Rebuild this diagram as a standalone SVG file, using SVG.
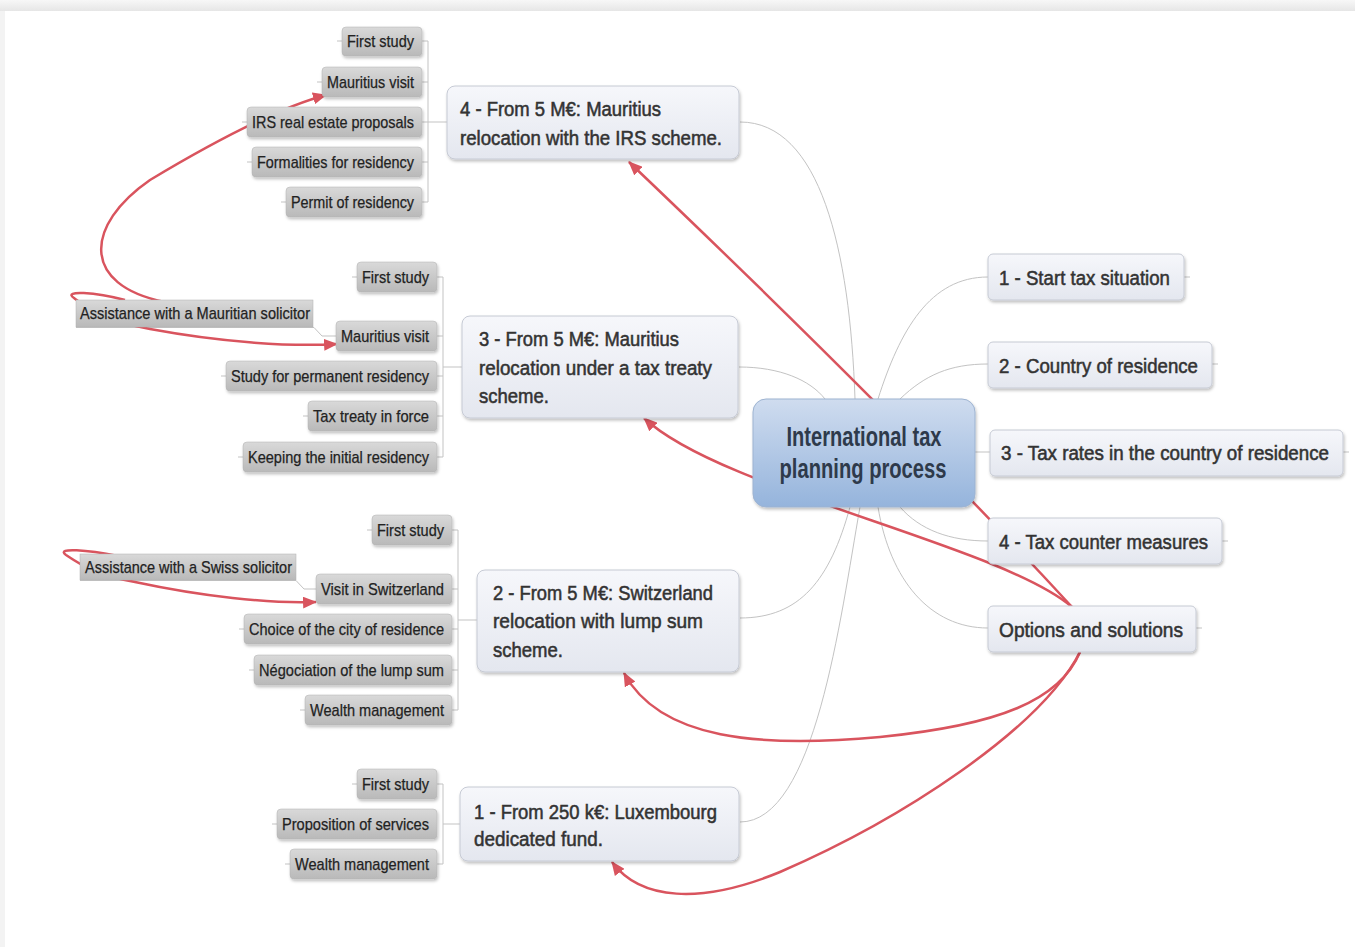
<svg xmlns="http://www.w3.org/2000/svg" width="1355" height="947" viewBox="0 0 1355 947">
<defs>
<linearGradient id="gTop" x1="0" y1="0" x2="0" y2="1"><stop offset="0" stop-color="#f7f7f7"/><stop offset="1" stop-color="#e6e6e6"/></linearGradient>
<linearGradient id="gCenter" x1="0" y1="0" x2="0" y2="1"><stop offset="0" stop-color="#cfdcef"/><stop offset="1" stop-color="#95b4dc"/></linearGradient>
<linearGradient id="gMain" x1="0" y1="0" x2="0" y2="1"><stop offset="0" stop-color="#f6f7fb"/><stop offset="1" stop-color="#e4e7ef"/></linearGradient>
<linearGradient id="gLeaf" x1="0" y1="0" x2="0" y2="1"><stop offset="0" stop-color="#d9d9d9"/><stop offset="1" stop-color="#b9b9b9"/></linearGradient>
<filter id="sh" x="-10%" y="-20%" width="120%" height="150%"><feDropShadow dx="1" dy="2" stdDeviation="1.5" flood-color="#000" flood-opacity="0.25"/></filter>
<marker id="ah" viewBox="0 0 14 12" refX="13" refY="6" markerWidth="14" markerHeight="12" markerUnits="userSpaceOnUse" orient="auto"><path d="M0,0 L14,6 L0,12 z" fill="#d9545e"/></marker>
<style>
text{font-family:"Liberation Sans",Arial,sans-serif;fill:#2b2b2b}
.gl{fill:none;stroke:#c3c3c3;stroke-width:1}
.ra{fill:none;stroke:#d9545e;stroke-width:2.5;marker-end:url(#ah)}
.center rect{fill:url(#gCenter);stroke:#9db3d1;stroke-width:1}
.center text{font-size:27px;font-weight:bold;fill:#2e3a4b;text-anchor:middle}
.main rect{fill:url(#gMain);stroke:#c6cad4;stroke-width:1}
.main text{font-size:20.5px;fill:#333;stroke:#333;stroke-width:0.55}
.main text.sm{font-size:19.5px}
.leaf rect{fill:url(#gLeaf);stroke:#b0b0b0;stroke-width:0.5}
.leaf text{font-size:17px;fill:#222;stroke:#222;stroke-width:0.25}
</style>
</defs>
<rect x="0" y="0" width="1355" height="947" fill="#ffffff"/>
<rect x="0" y="0" width="1355" height="11" fill="url(#gTop)"/>
<rect x="0" y="11" width="5" height="936" fill="#f3f3f3"/>

<g id="connectors">
<path class="gl" d="M855,399 C850,250 820,122 740,122"/>
<path class="gl" d="M825,399 C810,380 780,367 739,367"/>
<path class="gl" d="M878,399 C900,330 930,277 988,277"/>
<path class="gl" d="M900,399 C925,375 950,364 988,364"/>
<path class="gl" d="M975,452 L990,452"/>
<path class="gl" d="M900,507 C920,530 950,541 988,541"/>
<path class="gl" d="M878,507 C890,580 930,628 988,628"/>
<path class="gl" d="M850,507 C830,580 800,618 740,618"/>
<path class="gl" d="M860,507 C840,620 815,822 740,822"/>
<path class="gl" d="M1184,277 H1190 M1212,364 H1218 M1343,452 H1349 M1222,541 H1228 M1196,628 H1202"/>
<path class="gl" d="M422,41 H428 V202 H422 M422,82 H428 M422,122 H447 M422,162 H428 M337,41 H342 M317,82 H322 M242,122 H247 M247,162 H252 M281,202 H286"/>
<path class="gl" d="M437,277 H443 V457 H437 M437,336 H443 M437,376 H443 M437,416 H443 M443,367 H462 M352,277 H357 M221,376 H226 M303,416 H308 M238,457 H243"/>
<path class="gl" d="M76,327.5 H314 L322,336 H336"/>
<path class="gl" d="M452,530 H458 V710 H452 M452,589 H458 M452,629 H458 M452,670 H458 M458,620 H477 M367,530 H372 M239,629 H244 M249,670 H254 M300,710 H305"/>
<path class="gl" d="M80,580.5 H296 L304,589 H316"/>
<path class="gl" d="M437,784 H443 V864 H437 M443,824 H460 M352,784 H357 M272,824 H277 M285,864 H290"/>

<path class="ra" d="M1072,607 Q900,420 629,162"/>
<path class="ra" d="M1072,607 C1000,545 720,490 644,418"/>
<path class="ra" d="M1080,652 C1060,700 1000,725 880,737 C760,748 660,740 624,673"/>
<path class="ra" d="M1080,652 C1040,730 900,820 780,872 C700,905 640,900 612,862"/>
<path class="ra" d="M165,302 C80,285 85,225 150,180 C200,150 270,110 326,95"/>
<path class="ra" d="M125,300 C95,292 62,290 74,298 C85,306 100,320 150,329 C220,342 290,347 337,344"/>
<path class="ra" d="M118,556 C88,550 55,547 66,555 C78,563 95,575 135,582 C200,596 270,604 316,602"/>
</g>

<g id="center" class="center">
<rect x="753" y="399" width="222" height="108" rx="13" filter="url(#sh)"/>
<text x="864" y="446" textLength="155" lengthAdjust="spacingAndGlyphs">International tax</text>
<text x="863" y="478" textLength="167" lengthAdjust="spacingAndGlyphs">planning process</text>
</g>

<g id="r1" class="main"><rect x="988" y="254" width="196" height="46" rx="5" filter="url(#sh)"/><text x="999" y="285" textLength="171" lengthAdjust="spacingAndGlyphs">1 - Start tax situation</text></g>
<g id="r2" class="main"><rect x="988" y="342" width="224" height="46" rx="5" filter="url(#sh)"/><text x="999" y="373" textLength="199" lengthAdjust="spacingAndGlyphs">2 - Country of residence</text></g>
<g id="r3" class="main"><rect x="990" y="430" width="353" height="46" rx="5" filter="url(#sh)"/><text class="sm" x="1001" y="460" textLength="328" lengthAdjust="spacingAndGlyphs">3 - Tax rates in the country of residence</text></g>
<g id="r4" class="main"><rect x="988" y="518" width="234" height="46" rx="5" filter="url(#sh)"/><text x="999" y="549" textLength="209" lengthAdjust="spacingAndGlyphs">4 - Tax counter measures</text></g>
<g id="r5" class="main"><rect x="988" y="606" width="208" height="46" rx="5" filter="url(#sh)"/><text x="999" y="637" textLength="184" lengthAdjust="spacingAndGlyphs">Options and solutions</text></g>

<g id="b4" class="main"><rect x="447" y="86" width="292" height="73" rx="8" filter="url(#sh)"/>
<text x="460" y="116" textLength="201" lengthAdjust="spacingAndGlyphs">4 - From 5 M€: Mauritius</text>
<text x="460" y="145" textLength="262" lengthAdjust="spacingAndGlyphs">relocation with the IRS scheme.</text></g>
<g id="b3" class="main"><rect x="462" y="316" width="276" height="102" rx="8" filter="url(#sh)"/>
<text x="479" y="346" textLength="200" lengthAdjust="spacingAndGlyphs">3 - From 5 M€: Mauritius</text>
<text x="479" y="375" textLength="233" lengthAdjust="spacingAndGlyphs">relocation under a tax treaty</text>
<text x="479" y="403" textLength="70" lengthAdjust="spacingAndGlyphs">scheme.</text></g>
<g id="b2" class="main"><rect x="477" y="570" width="262" height="102" rx="8" filter="url(#sh)"/>
<text x="493" y="600" textLength="220" lengthAdjust="spacingAndGlyphs">2 - From 5 M€: Switzerland</text>
<text x="493" y="628" textLength="210" lengthAdjust="spacingAndGlyphs">relocation with lump sum</text>
<text x="493" y="657" textLength="70" lengthAdjust="spacingAndGlyphs">scheme.</text></g>
<g id="b1" class="main"><rect x="460" y="787" width="279" height="74" rx="8" filter="url(#sh)"/>
<text x="474" y="819" textLength="243" lengthAdjust="spacingAndGlyphs">1 - From 250 k€: Luxembourg</text>
<text x="474" y="846" textLength="129" lengthAdjust="spacingAndGlyphs">dedicated fund.</text></g>

<g id="l4a" class="leaf"><rect x="342" y="27" width="80" height="29" rx="4" filter="url(#sh)"/><text x="347" y="47" textLength="67" lengthAdjust="spacingAndGlyphs">First study</text></g>
<g id="l4b" class="leaf"><rect x="322" y="67" width="100" height="30" rx="4" filter="url(#sh)"/><text x="327" y="88" textLength="87" lengthAdjust="spacingAndGlyphs">Mauritius visit</text></g>
<g id="l4c" class="leaf"><rect x="247" y="107" width="175" height="30" rx="4" filter="url(#sh)"/><text x="252" y="128" textLength="162" lengthAdjust="spacingAndGlyphs">IRS real estate proposals</text></g>
<g id="l4d" class="leaf"><rect x="252" y="147" width="170" height="30" rx="4" filter="url(#sh)"/><text x="257" y="168" textLength="157" lengthAdjust="spacingAndGlyphs">Formalities for residency</text></g>
<g id="l4e" class="leaf"><rect x="286" y="187" width="136" height="30" rx="4" filter="url(#sh)"/><text x="291" y="208" textLength="123" lengthAdjust="spacingAndGlyphs">Permit of residency</text></g>

<g id="l3a" class="leaf"><rect x="357" y="262" width="80" height="30" rx="4" filter="url(#sh)"/><text x="362" y="283" textLength="67" lengthAdjust="spacingAndGlyphs">First study</text></g>
<g id="l3b" class="leaf"><rect x="336" y="321" width="101" height="30" rx="4" filter="url(#sh)"/><text x="341" y="342" textLength="88" lengthAdjust="spacingAndGlyphs">Mauritius visit</text></g>
<g id="l3c" class="leaf"><rect x="226" y="361" width="211" height="30" rx="4" filter="url(#sh)"/><text x="231" y="382" textLength="198" lengthAdjust="spacingAndGlyphs">Study for permanent residency</text></g>
<g id="l3d" class="leaf"><rect x="308" y="401" width="129" height="30" rx="4" filter="url(#sh)"/><text x="313" y="422" textLength="116" lengthAdjust="spacingAndGlyphs">Tax treaty in force</text></g>
<g id="l3e" class="leaf"><rect x="243" y="442" width="194" height="30" rx="4" filter="url(#sh)"/><text x="248" y="463" textLength="181" lengthAdjust="spacingAndGlyphs">Keeping the initial residency</text></g>
<g id="l3f" class="leaf"><rect x="76" y="300" width="237" height="27" fill="#c9c9c9"/><text x="80" y="319" textLength="230" lengthAdjust="spacingAndGlyphs">Assistance with a Mauritian solicitor</text></g>

<g id="l2a" class="leaf"><rect x="372" y="515" width="80" height="30" rx="4" filter="url(#sh)"/><text x="377" y="536" textLength="67" lengthAdjust="spacingAndGlyphs">First study</text></g>
<g id="l2b" class="leaf"><rect x="316" y="574" width="136" height="30" rx="4" filter="url(#sh)"/><text x="321" y="595" textLength="123" lengthAdjust="spacingAndGlyphs">Visit in Switzerland</text></g>
<g id="l2c" class="leaf"><rect x="244" y="614" width="208" height="30" rx="4" filter="url(#sh)"/><text x="249" y="635" textLength="195" lengthAdjust="spacingAndGlyphs">Choice of the city of residence</text></g>
<g id="l2d" class="leaf"><rect x="254" y="655" width="198" height="30" rx="4" filter="url(#sh)"/><text x="259" y="676" textLength="185" lengthAdjust="spacingAndGlyphs">Négociation of the lump sum</text></g>
<g id="l2e" class="leaf"><rect x="305" y="695" width="147" height="30" rx="4" filter="url(#sh)"/><text x="310" y="716" textLength="134" lengthAdjust="spacingAndGlyphs">Wealth management</text></g>
<g id="l2f" class="leaf"><rect x="80" y="554" width="216" height="26" fill="#c9c9c9"/><text x="85" y="573" textLength="207" lengthAdjust="spacingAndGlyphs">Assistance with a Swiss solicitor</text></g>

<g id="l1a" class="leaf"><rect x="357" y="769" width="80" height="30" rx="4" filter="url(#sh)"/><text x="362" y="790" textLength="67" lengthAdjust="spacingAndGlyphs">First study</text></g>
<g id="l1b" class="leaf"><rect x="277" y="809" width="160" height="30" rx="4" filter="url(#sh)"/><text x="282" y="830" textLength="147" lengthAdjust="spacingAndGlyphs">Proposition of services</text></g>
<g id="l1c" class="leaf"><rect x="290" y="849" width="147" height="30" rx="4" filter="url(#sh)"/><text x="295" y="870" textLength="134" lengthAdjust="spacingAndGlyphs">Wealth management</text></g>
</svg>
